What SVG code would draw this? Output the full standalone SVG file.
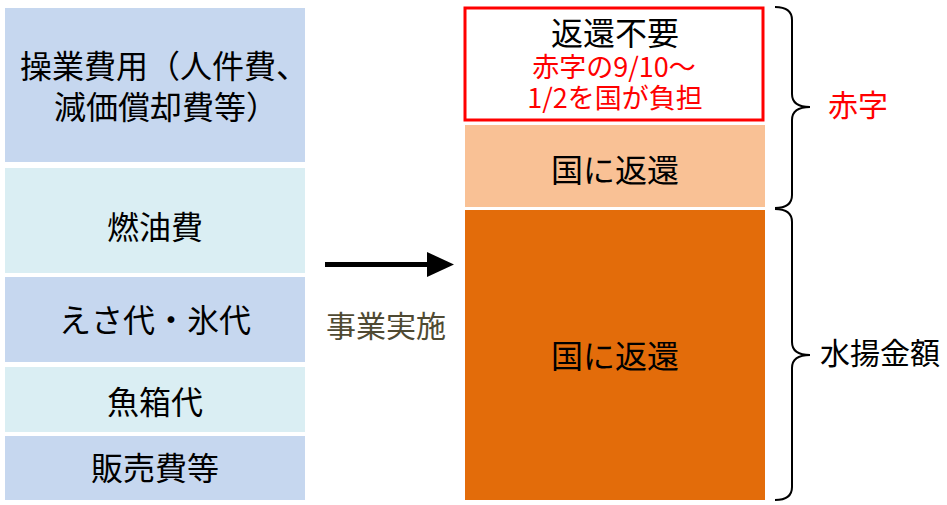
<svg xmlns="http://www.w3.org/2000/svg" width="947" height="505" viewBox="0 0 947 505">
<style>
  text { font-family: "Noto Sans CJK JP", "Noto Sans", sans-serif; text-anchor: middle; }
  .t32 { font-size: 32px; fill: #000; }
  .t27 { font-size: 27px; fill: #FF0000; }
  .blue { fill: #C6D7EF; }
  .cyan { fill: #DAEEF3; }
  .brace { fill: none; stroke: #000; stroke-width: 2; }
</style>
<rect width="947" height="505" fill="#FFFFFF"/>
<g id="node-sougyou">
  <rect class="blue" x="5" y="8" width="300" height="154"/>
  <text class="t32" x="164" y="78">操業費用（人件費、</text>
  <text class="t32" x="166" y="119">減価償却費等）</text>
</g>
<g id="node-nenyu">
  <rect class="cyan" x="5" y="168" width="300" height="105"/>
  <text class="t32" x="155" y="239">燃油費</text>
</g>
<g id="node-esa">
  <rect class="blue" x="5" y="277" width="300" height="85"/>
  <text class="t32" x="155" y="332">えさ代・氷代</text>
</g>
<g id="node-uobako">
  <rect class="cyan" x="5" y="367" width="300" height="65"/>
  <text class="t32" x="155" y="414">魚箱代</text>
</g>
<g id="node-hanbai">
  <rect class="blue" x="5" y="436" width="300" height="64"/>
  <text class="t32" x="155" y="480">販売費等</text>
</g>
<g id="node-henkan-fuyou">
  <rect x="465" y="8" width="298" height="112" fill="#FFFFFF" stroke="#FF0000" stroke-width="3"/>
  <text class="t32" x="615" y="45">返還不要</text>
  <text class="t27" x="614" y="77">赤字の9/10～</text>
  <text class="t27" x="615" y="108">1/2を国が負担</text>
</g>
<g id="node-henkan1">
  <rect x="465" y="125" width="300" height="82" fill="#F9C195"/>
  <text class="t32" x="615" y="182">国に返還</text>
</g>
<g id="node-henkan2">
  <rect x="465" y="210" width="300" height="290" fill="#E36C0A"/>
  <text class="t32" x="615" y="368">国に返還</text>
</g>
<g id="connectors">
  <line x1="325" y1="264.5" x2="430" y2="264.5" stroke="#000" stroke-width="5"/>
  <polygon points="427,252 454,264.5 427,277" fill="#000"/>
  <path class="brace" d="M775,7 Q792,7 792,20 L792,94 Q792,107 810,107 Q792,107 792,120 L792,195 Q792,208 775,208"/>
  <path class="brace" d="M775,209 Q792,209 792,222 L792,342 Q792,355 810,355 Q792,355 792,368 L792,487 Q792,500 775,500"/>
</g>
<g id="labels">
  <text x="386" y="337" style="font-size:30px;fill:#4F4A33">事業実施</text>
  <text x="858" y="116" style="font-size:30px;fill:#FF0000">赤字</text>
  <text x="880" y="364" style="font-size:30px;fill:#000">水揚金額</text>
</g>
</svg>
